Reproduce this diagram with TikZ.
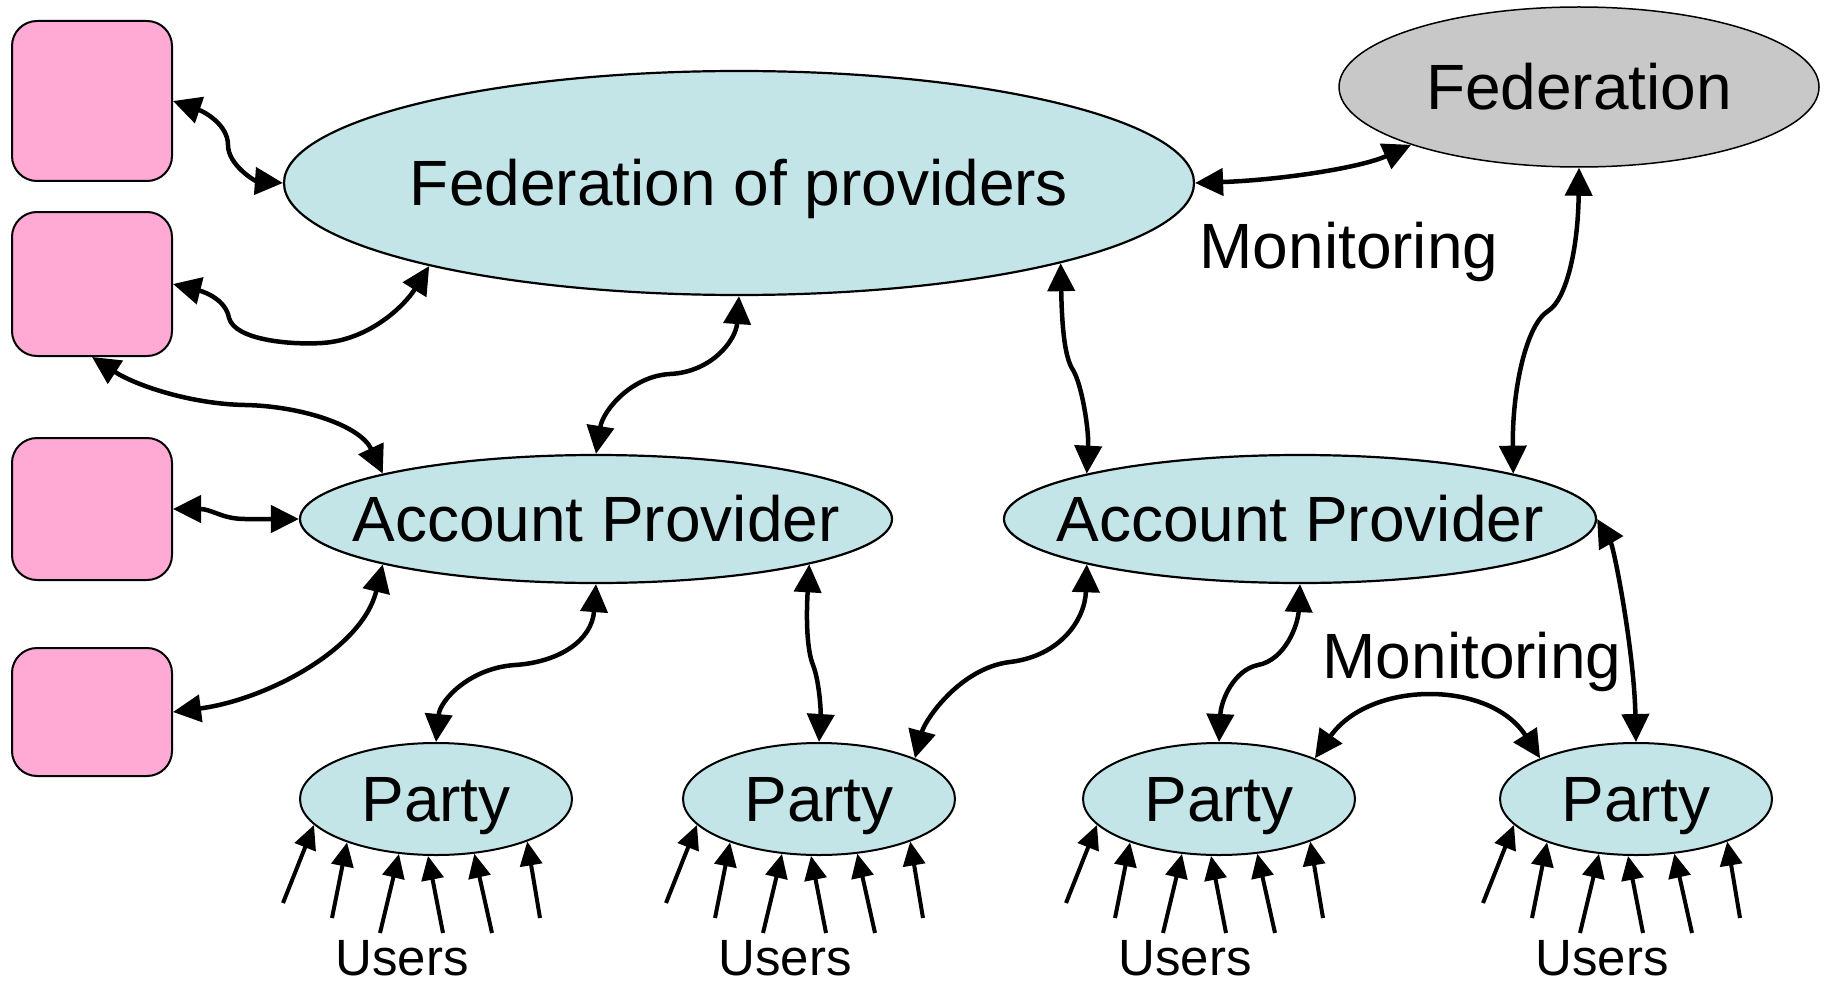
\documentclass[tikz,border=0pt]{standalone}
\usepackage{fontspec}
\setmainfont{Liberation Sans}
\usetikzlibrary{arrows.meta,shapes.geometric,calc}
\definecolor{cy}{RGB}{196,229,232}
\definecolor{pk}{RGB}{255,170,212}
\definecolor{gr}{RGB}{200,200,200}
\newcommand\fsbig{\fontsize{64}{70}\selectfont}
\newcommand\fsusr{\fontsize{51}{56}\selectfont}
\tikzset{
  ell/.style={ellipse, draw, line width=2.2pt, fill=cy, inner xsep=-150pt, inner ysep=0pt,
              font=\fsbig, text height=45.8pt, text depth=0pt},
  pbox/.style={rectangle, rounded corners=25pt, draw, line width=2pt, fill=pk,
               minimum width=160pt, inner sep=0pt},
  lbl/.style={inner sep=0pt, font=\fsbig},
  ulbl/.style={inner sep=0pt, font=\fsusr},
  conn/.style={line width=4.5pt, {Triangle[length=28pt,width=27pt]}-{Triangle[length=28pt,width=27pt]}},
  uarr/.style={line width=4pt, -{Triangle[length=24pt,width=22pt]}},
}
\begin{document}
\begin{tikzpicture}[x=1pt,y=-1pt]
\useasboundingbox (0,0) rectangle (1830,987);
% boxes
\node[pbox, minimum height=160pt] (box1) at (92,101) {};
\node[pbox, minimum height=144pt] (box2) at (92,284) {};
\node[pbox, minimum height=142pt] (box3) at (92,509) {};
\node[pbox, minimum height=128pt] (box4) at (92,712) {};
% ellipses
\node[ell, minimum width=910pt, minimum height=224pt] (fop) at (739,183) {Federation of providers};
\node[ell, fill=gr, line width=1.5pt, minimum width=480pt, minimum height=160pt] (fed) at (1579,87) {Federation};
\node[ell, minimum width=592pt, minimum height=128pt] (ap1) at (596,519) {Account Provider};
\node[ell, minimum width=592pt, minimum height=128pt] (ap2) at (1300,519) {Account Provider};
\node[ell, line width=2pt, minimum width=272pt, minimum height=112pt] (p1) at (436,799) {Party};
\node[ell, line width=2pt, minimum width=272pt, minimum height=112pt] (p2) at (819,799) {Party};
\node[ell, line width=2pt, minimum width=272pt, minimum height=112pt] (p3) at (1219,799) {Party};
\node[ell, line width=2pt, minimum width=272pt, minimum height=112pt] (p4) at (1636,799) {Party};
% labels
\node[lbl, anchor=base] (mon1) at (1349,268) {Monitoring};
\node[lbl, anchor=base] (mon2) at (1472,678) {Monitoring};
\node[ulbl, anchor=base] (u1) at (402,975) {Users};
\node[ulbl, anchor=base] (u2) at (785,975) {Users};
\node[ulbl, anchor=base] (u3) at (1185,975) {Users};
\node[ulbl, anchor=base] (u4) at (1602,975) {Users};
% connectors
\draw[conn] (box1.east) .. controls (205,112) and (228,125) .. (228,145) .. controls (228,165) and (255,181) .. (fop.west);
\draw[conn] (box2.east) .. controls (205,292) and (226,300) .. (229,318) .. controls (235,340) and (290,345) .. (322,343) .. controls (370,340) and (405,305) .. (fop.195);
\draw[conn] (box2.south) .. controls (135,385) and (190,404) .. (245,405) .. controls (300,406) and (360,425) .. (ap1.168);
\draw[conn] (box3.east) .. controls (212,509) and (222,519) .. (245,519) -- (ap1.west);
\draw[conn] (box4.east) .. controls (265,700) and (362,650) .. (ap1.192);
\draw[conn] (ap1.north) .. controls (603,410) and (632,376) .. (670,374) .. controls (712,372) and (736,340) .. (fop.south);
\draw[conn] (fop.346) .. controls (1062,330) and (1065,358) .. (1073,370) .. controls (1082,385) and (1089,430) .. (ap2.168);
\draw[conn] (fop.east) .. controls (1280,180) and (1360,168) .. (fed.199);
\draw[conn] (fed.south) .. controls (1578,250) and (1566,300) .. (1548,311) .. controls (1526,325) and (1512,390) .. (ap2.12);
\draw[conn] (ap2.east) .. controls (1614,548) and (1634,650) .. (p4.north);
\draw[conn] (ap2.south) .. controls (1298,625) and (1285,660) .. (1258,665) .. controls (1234,670) and (1221,700) .. (p3.north);
\draw[conn] (p3.23) .. controls (1370,680) and (1490,680) .. (p4.157);
\draw[conn] (ap1.south) .. controls (592,640) and (560,662) .. (515,665) .. controls (470,668) and (440,700) .. (p1.north);
\draw[conn] (ap1.348) .. controls (806,620) and (807,650) .. (813,665) .. controls (819,680) and (821,710) .. (p2.north);
\draw[conn] (ap2.192) .. controls (1085,620) and (1060,656) .. (1010,662) .. controls (960,668) and (925,720) .. (p2.23);
% user arrows
\foreach \p in {p1,p2,p3,p4}{
  \foreach \dx/\dy/\a [count=\i] in {-153/104/192, -104/119/206, -56/134/236, 7/134/262, 56/134/305, 104/119/335}{
    \coordinate (\p u\i) at ($(\p)+(\dx,\dy)$);
    \draw[uarr] (\p u\i) -- (\p.\a);
  }
}
\end{tikzpicture}
\end{document}
